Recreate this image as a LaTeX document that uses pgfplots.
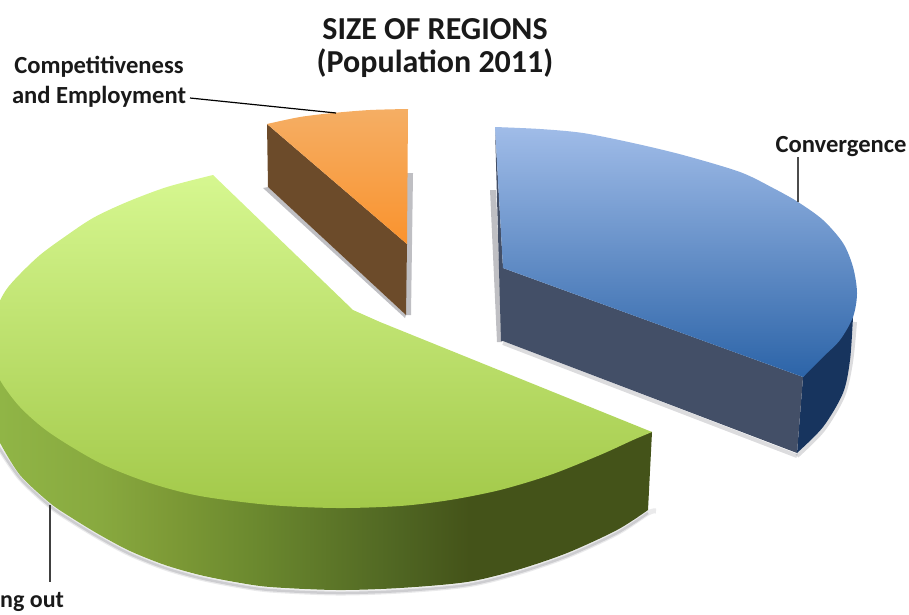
\documentclass[border=0pt]{standalone}
\usepackage{fontspec}
\setmainfont{Carlito}
\usepackage{pgfplots}
\pgfplotsset{compat=1.18}
\definecolor{greenTop}{HTML}{D6F790}
\definecolor{greenBot}{HTML}{A3C94A}
\definecolor{greenA}{HTML}{90B546}
\definecolor{greenB}{HTML}{88A93F}
\definecolor{greenC}{HTML}{7D9A36}
\definecolor{greenD}{HTML}{6C8A2F}
\definecolor{greenE}{HTML}{4F6522}
\definecolor{greenF}{HTML}{445319}
\definecolor{blueTop}{HTML}{A0BCE8}
\definecolor{blueBot}{HTML}{2C64A8}
\definecolor{blueFace}{HTML}{434F67}
\definecolor{blueRim}{HTML}{17345E}
\definecolor{orangeTop}{HTML}{F5AE64}
\definecolor{orangeBot}{HTML}{FA932E}
\definecolor{brownFace}{HTML}{6C4B2A}
\definecolor{shadow}{HTML}{8A8A92}
% rim of the large wedge: light on the left, dark from the middle onwards
\pgfdeclarehorizontalshading{greenrim}{100bp}{
  color(0bp)=(greenA); color(25bp)=(greenA); color(32.7bp)=(greenB);
  color(38bp)=(greenC); color(44.2bp)=(greenD); color(55.7bp)=(greenE);
  color(61bp)=(greenF); color(100bp)=(greenF)}
\begin{document}
\begin{tikzpicture}
\clip (0,0) rectangle (909pt,614pt);
\begin{axis}[
  at={(0,0)}, anchor=south west,
  width=909pt, height=614pt, scale only axis,
  xmin=0, xmax=909, ymin=0, ymax=614, y dir=reverse,
  hide axis, clip=true,
  every axis plot/.append style={no markers}]

% soft shadows beneath the wedges
\addplot[smooth, draw=shadow, opacity=.18, line width=5pt] coordinates {(-2,446)(20,478)(50,506)(72,521)(100,538)(130,554)(165,568)(200,578)(235,585)(270,590)(337,593)(400,591)(467,585)(517,573)(567,556)(617,533)(648,513)(656,511)};
\addplot[smooth, draw=shadow, opacity=.3, line width=2.5pt] coordinates {(-2,446)(20,478)(50,506)(72,521)(100,538)(130,554)(165,568)(200,578)(235,585)(270,590)(337,593)(400,591)(467,585)(517,573)(567,556)(617,533)(648,513)};
\addplot[draw=shadow, opacity=.3, line width=4pt] coordinates {(503,343)(797,456)};
\addplot[smooth, draw=shadow, opacity=.3, line width=4pt] coordinates {(797,456)(823,430)(843,396)(851,362)(855,322)};
\addplot[draw=none, fill=shadow, opacity=.55] coordinates {(490,190)(496,190)(502,342)(497,342)} -- cycle;
\addplot[draw=none, fill=shadow, opacity=.55] coordinates {(263,188)(268,187)(406,315)(405,318)} -- cycle;
\addplot[draw=none, fill=shadow, opacity=.55] coordinates {(407,173)(413,173)(411,315)(406,315)} -- cycle;

% Phasing-out wedge: rim (its upper edge lies under the top surface), then top surface
\addplot[smooth, draw=none, shade, shading=greenrim] coordinates {
 (648,510)(617,530)(567,553)(517,570)(467,582)(400,588)(337,590)(270,587)(235,582)(200,575)(165,565)(130,551)(100,535)(72,518)(50,503)(20,475)(0,443)} -- (axis cs:0,380) -- (axis cs:652,432) -- cycle;
\addplot[smooth, draw=none, shade, top color=greenTop, bottom color=greenBot] coordinates {
 (213,175)(167,187)(127,202)(93,218)(63,238)(40,255)(20,274)(6,290)(-4,310)(-8,335)(-6,360)(0,380)(20,407)(50,433)(100,463)(150,483)(200,496)(270,505)(337,508)(400,506)(450,500)(500,490)(550,475)(600,455)(633,440)(652,432)}
 -- (axis cs:380,322) -- (axis cs:353,310) -- cycle;

% Convergence wedge: sliver, rim, cut face, top surface
\addplot[draw=none, fill=blueFace] coordinates {(495,127)(503,268)(503,341)(501,341)} -- cycle;
\addplot[smooth, draw=none, fill=blueRim] coordinates {(853,317)(850,360)(843,393)(823,427)(797,453)} -- (axis cs:803,377) -- cycle;
\addplot[draw=none, fill=blueFace] coordinates {(503,268)(803,377)(797,453)(503,341)} -- cycle;
\addplot[smooth, draw=none, shade, top color=blueTop, bottom color=blueBot] coordinates {
 (495,127)(540,129)(583,133)(633,143)(683,155)(740,172)(773,188)(798,202)(823,220)(843,243)(853,267)(857,293)(853,317)(840,340)(823,357)(803,377)} -- (axis cs:503,268) -- cycle;

% Competitiveness wedge: cut face, top surface
\addplot[draw=none, fill=brownFace] coordinates {(267,124)(407,244)(406,315)(268,187)} -- cycle;
\addplot[smooth, draw=none, shade, top color=orangeTop, bottom color=orangeBot] coordinates {
 (267,124)(300,117)(333,113)(370,110)(408,109)} -- (axis cs:407,244) -- cycle;

% leader lines
\addplot[draw=black, line width=1.2pt] coordinates {(190,98)(336,113)};
\addplot[draw=black!70, line width=1.2pt] coordinates {(798,157)(798,202)};
\addplot[draw=black!75, line width=1.2pt] coordinates {(50,505)(50,582)};

% titles and labels
\node[font=\fontsize{32}{33}\selectfont\bfseries, align=center, text=black!90] at (axis cs:435,48)
  {SIZE OF REGIONS\\(Population 2011)};
\node[font=\fontsize{24.6}{30}\selectfont\bfseries, align=center, text=black!90] at (axis cs:99,82)
  {Competitiveness\\and Employment};
\node[font=\fontsize{24.6}{26}\selectfont\bfseries, text=black!90] at (axis cs:841,147) {Convergence};
\node[font=\fontsize{24}{26}\selectfont\bfseries, text=black!90, anchor=west, inner sep=0pt] at (axis cs:0,602) {ng out};
\end{axis}
\end{tikzpicture}
\end{document}
